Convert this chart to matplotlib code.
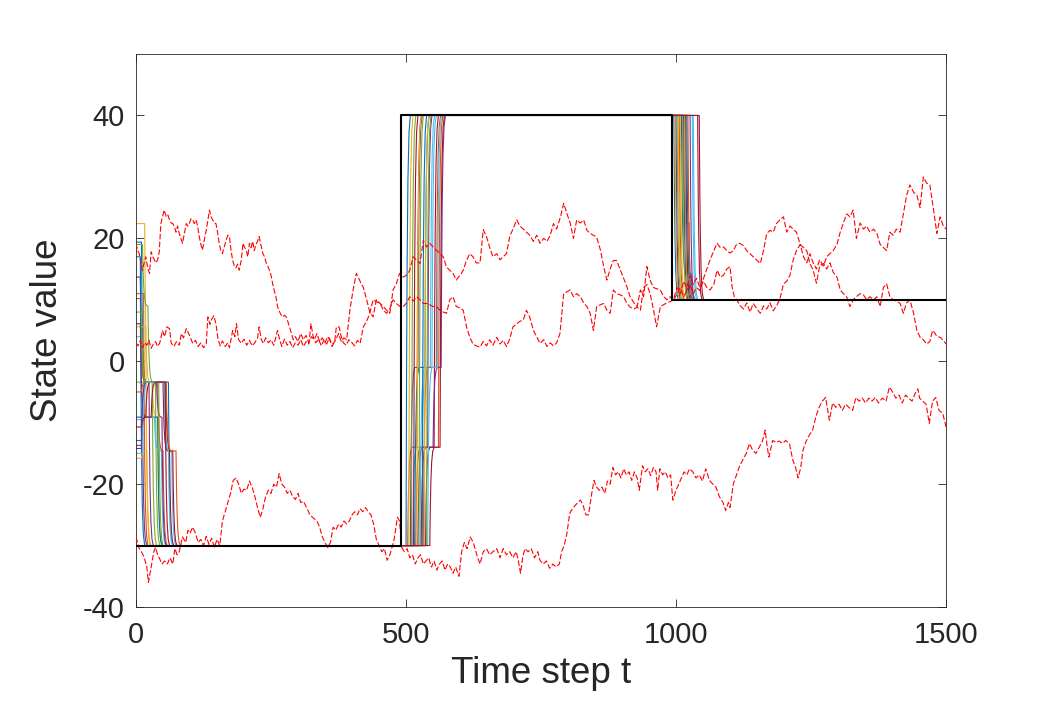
import matplotlib
matplotlib.use('Agg')
import matplotlib.pyplot as plt

plt.rcParams['font.family'] = ['Liberation Sans', 'DejaVu Sans']
plt.rcParams['axes.unicode_minus'] = False

# ---------------- data ----------------
# reference signal (black)
ref_t = [0, 490, 490, 992, 992, 1500]
ref_v = [-30, -30, 40, 40, 10, 10]

# red dashed noisy traces
s1_t = [0, 3, 6, 9, 12, 15, 18, 22, 25, 28, 31, 34, 37, 40, 43, 46, 49, 52, 56, 59, 62, 65, 68, 71, 74, 77, 80, 83, 86, 90, 93, 96, 99, 102, 105, 108, 111, 114, 117, 120, 123, 127, 130, 133, 136, 139, 142, 145, 148, 151, 154, 157, 160, 163, 167, 170, 173, 176, 179, 182, 185, 188, 191, 195, 198, 201, 204, 207, 210, 213, 216, 219, 222, 225, 228, 231, 235, 238, 241, 244, 247, 250, 253, 256, 259, 262, 266, 269, 272, 275, 278, 281, 284, 288, 291, 295, 300, 305, 310, 315, 320, 325, 330, 335, 340, 345, 350, 355, 360, 365, 370, 375, 380, 385, 390, 396, 402, 408, 415, 421, 427, 433, 439, 445, 452, 458, 464, 470, 476, 482, 488, 495, 501, 507, 513, 520, 526, 532, 538, 544, 550, 556, 563, 569, 575, 581, 587, 593, 600, 606, 612, 618, 624, 630, 637, 643, 649, 655, 661, 668, 674, 680, 686, 692, 698, 705, 711, 717, 723, 729, 736, 742, 748, 755, 761, 767, 773, 779, 786, 792, 798, 804, 810, 816, 823, 829, 835, 841, 847, 853, 860, 866, 872, 878, 884, 890, 897, 903, 909, 915, 922, 928, 934, 940, 946, 952, 958, 964, 971, 977, 983, 989, 995, 1002, 1008, 1014, 1020, 1026, 1032, 1038, 1044, 1051, 1057, 1063, 1070, 1076, 1082, 1088, 1094, 1100, 1106, 1112, 1118, 1125, 1131, 1137, 1143, 1150, 1156, 1162, 1168, 1174, 1180, 1186, 1192, 1199, 1205, 1211, 1217, 1223, 1230, 1236, 1242, 1248, 1254, 1260, 1266, 1273, 1279, 1285, 1291, 1298, 1304, 1310, 1316, 1322, 1328, 1334, 1341, 1347, 1353, 1359, 1366, 1372, 1378, 1384, 1390, 1396, 1402, 1408, 1415, 1421, 1427, 1433, 1440, 1446, 1452, 1458, 1464, 1470, 1475, 1480, 1483, 1489, 1495, 1500]
s1_v = [19.2, 18, 17.5, 16, 14.8, 16, 17, 15, 14.3, 17.8, 17, 16.5, 16, 16.5, 17.8, 22.4, 23.5, 24.6, 23.5, 23.8, 23, 22.5, 22.4, 21.9, 21, 22, 20.8, 20, 19.2, 21, 22.4, 22, 22.5, 23.2, 23, 22.4, 23, 22, 20.3, 19, 18.1, 20, 21.3, 23, 24.6, 23.5, 23, 22.5, 22.4, 21, 19.2, 18, 17.5, 18.5, 19.7, 20.5, 20.3, 18, 16.4, 15.5, 15.2, 15.8, 14.8, 16.5, 19.2, 18.5, 18.1, 17, 19.2, 18.5, 19.5, 18, 19, 19.5, 20.3, 19, 17.5, 17, 16, 15.5, 14.8, 14, 12.6, 11.5, 10.5, 8.9, 8, 7.5, 7.2, 7.5, 7.2, 6.5, 5.6, 4.5, 3.5, 4, 3.2, 4.5, 3.5, 4.2, 3, 4, 3.5, 4.5, 3.2, 3.8, 3, 4, 3.3, 2.8, 3.5, 4.5, 3.2, 3.8, 3.5, 8.3, 11.6, 14.3, 13, 12, 10, 8, 7.2, 10, 9.4, 8.9, 8.3, 7.8, 11.6, 12.6, 14.3, 13.7, 14, 14.8, 17, 16.4, 15.9, 19.7, 18.6, 19.2, 18.6, 18.1, 17.5, 17, 15.3, 14.8, 14.3, 13.2, 14, 14.8, 16.4, 17.5, 17, 16, 16, 21.4, 20.3, 18.5, 17, 17.5, 16.5, 17, 17.5, 20.3, 21.5, 23, 22, 21.5, 21, 20.5, 19.5, 20.5, 19.2, 20, 19.5, 20.5, 22.4, 21.5, 23.5, 25.7, 24, 22.5, 20, 23, 22.5, 23, 21.3, 20.8, 20.5, 20.2, 18.1, 15.4, 13.2, 15, 16.4, 16.4, 14.8, 13.5, 12.1, 10.5, 9.5, 8.9, 11.6, 10.5, 15.4, 13.2, 12, 11.8, 11.6, 10.5, 10, 10.5, 9.8, 11, 12, 10.5, 11.5, 12.5, 11, 12, 11.5, 13.5, 15, 16.5, 18, 19.2, 18.5, 18.6, 18, 17.6, 18, 19, 19.2, 18.8, 18, 17.5, 17, 16.4, 15.9, 18, 20.8, 21.3, 21, 22.4, 23, 23.5, 21, 22, 21.5, 21, 19, 18.5, 18, 15.9, 14.8, 12.7, 15.5, 15.9, 15, 16, 14.5, 13.7, 11.6, 11, 10.5, 8.9, 10, 10.5, 11, 10.8, 10, 10.5, 10, 10.5, 8.9, 12, 12.6, 10.5, 10, 9.8, 9.4, 7.8, 9.5, 10, 7.8, 5, 3.9, 3.5, 2.8, 3.2, 5, 4.5, 4, 3.9, 3.4, 2.8]

s2_t = [0, 4, 8, 12, 16, 20, 24, 28, 32, 36, 40, 44, 49, 53, 57, 62, 65, 70, 75, 80, 84, 88, 93, 96, 99, 105, 110, 115, 120, 125, 130, 133, 137, 140, 144, 148, 152, 156, 160, 165, 170, 173, 179, 183, 186, 190, 195, 200, 205, 210, 215, 220, 225, 228, 232, 236, 240, 245, 250, 255, 259, 262, 266, 270, 275, 280, 285, 290, 295, 300, 305, 310, 315, 320, 324, 328, 333, 338, 343, 348, 353, 358, 363, 368, 371, 376, 380, 384, 389, 394, 400, 405, 410, 415, 421, 427, 433, 439, 445, 452, 458, 464, 470, 476, 482, 489, 495, 501, 507, 513, 520, 526, 532, 538, 544, 550, 556, 563, 569, 575, 581, 587, 593, 600, 606, 612, 618, 624, 630, 637, 643, 649, 655, 661, 668, 674, 680, 686, 692, 698, 705, 711, 717, 723, 729, 736, 742, 748, 755, 761, 767, 773, 779, 785, 792, 798, 804, 810, 816, 823, 829, 835, 841, 847, 853, 860, 866, 872, 878, 884, 890, 897, 903, 909, 915, 922, 928, 934, 940, 946, 952, 958, 964, 971, 977, 983, 989, 995, 1002, 1008, 1014, 1020, 1026, 1032, 1038, 1044, 1051, 1057, 1063, 1070, 1076, 1082, 1088, 1094, 1100, 1104, 1108, 1113, 1119, 1125, 1131, 1137, 1143, 1150, 1156, 1162, 1168, 1174, 1180, 1186, 1192, 1199, 1205, 1211, 1217, 1223, 1230, 1236, 1242, 1248, 1254, 1260, 1266, 1273, 1279, 1285, 1291, 1298, 1304, 1310, 1316, 1322, 1328, 1334, 1341, 1347, 1353, 1359, 1366, 1372, 1378, 1384, 1390, 1396, 1402, 1408, 1415, 1421, 1427, 1433, 1440, 1446, 1452, 1458, 1464, 1470, 1477, 1483, 1489, 1495, 1500]
s2_v = [3, 2.5, 3.4, 2.2, 3, 2.6, 3.4, 2.1, 2.8, 3.2, 2.4, 3, 5, 4, 5.6, 5.3, 3, 2.4, 3.2, 2.6, 4.5, 3.8, 5.3, 4.8, 4.2, 2.9, 3.4, 2.4, 3, 2.2, 2.8, 7.2, 6, 6.8, 7.4, 6.1, 3.5, 2.5, 3.3, 2.4, 3, 2.2, 5, 4, 6.1, 3.5, 2.9, 3.6, 2.6, 3.4, 2.5, 3, 3.8, 5.6, 3.5, 2.9, 3.8, 3, 3.5, 2.6, 4, 5, 3.5, 2.4, 3.6, 2.6, 3.2, 2.2, 3, 2.6, 3.5, 2.4, 3.2, 2.8, 6.1, 4, 3, 3.6, 2.5, 3.4, 2.8, 3.8, 2.4, 3.3, 5.6, 5.6, 4, 3, 2.6, 3.5, 3, 2.5, 3.4, 2.9, 5.6, 6.5, 7.8, 10, 9.7, 9.4, 8.3, 7.8, 8.5, 10, 9.4, 8.9, 8.9, 9.5, 10.5, 9.8, 10.5, 10, 9.4, 9.4, 9.2, 8.9, 8.9, 8.3, 8, 7.8, 10, 10.5, 8.9, 8.7, 8.3, 5.6, 3.9, 2.8, 2.5, 2.3, 3.2, 2.5, 3.5, 2.6, 3.9, 2.8, 3.4, 2.4, 3.6, 5.6, 6.1, 6.5, 6.7, 8.3, 7.2, 5, 4, 2.9, 3.5, 2.4, 3, 2.5, 3, 4.5, 11, 11.3, 11.6, 10.5, 11, 10.5, 9.5, 8.9, 7.8, 5, 8.9, 9.2, 9.4, 8.3, 7.8, 11.6, 11, 10.8, 10.5, 9.4, 8.8, 8.5, 8.8, 8.3, 12, 12.5, 11, 8.5, 5.6, 8.9, 9.2, 9.5, 9.7, 10, 12, 11, 13, 12, 14, 12.5, 13.5, 12, 13, 12, 11.6, 12.5, 14.8, 13.7, 14, 15, 15.4, 12, 10.5, 9.9, 9, 8.5, 9.5, 8, 9.4, 8.5, 7.8, 9, 8.5, 9.5, 8.2, 9, 10, 12.6, 13, 14, 16.5, 18, 19, 17, 16, 17.5, 16, 15, 16.5, 15.5, 17, 17.5, 18, 19, 21, 22.5, 24, 23.5, 24.6, 20, 22.5, 21.5, 22, 21, 21.5, 20.8, 19, 18.5, 18, 21, 20.5, 21.5, 21, 24, 27, 28.7, 27.5, 27, 25, 30, 29, 28.7, 24.6, 20.8, 23.5, 22, 21.5]

s3_t = [0, 5, 10, 15, 20, 23, 26, 30, 33, 36, 40, 43, 48, 53, 58, 63, 68, 72, 76, 80, 86, 92, 96, 100, 105, 110, 115, 120, 125, 130, 135, 140, 145, 150, 155, 160, 165, 170, 175, 180, 185, 190, 195, 200, 205, 210, 215, 220, 225, 230, 235, 240, 245, 250, 255, 260, 265, 270, 275, 280, 285, 290, 295, 300, 305, 310, 317, 322, 328, 335, 340, 345, 350, 355, 360, 365, 370, 375, 380, 385, 390, 395, 400, 405, 410, 415, 420, 425, 430, 435, 440, 445, 450, 455, 460, 465, 470, 475, 478, 484, 488, 492, 497, 502, 507, 512, 517, 522, 527, 532, 537, 542, 547, 552, 557, 562, 567, 572, 577, 582, 587, 592, 598, 603, 608, 613, 619, 625, 631, 637, 643, 649, 655, 661, 668, 674, 680, 686, 692, 698, 704, 708, 712, 716, 720, 726, 732, 738, 744, 748, 754, 760, 766, 772, 778, 784, 788, 793, 798, 803, 808, 813, 818, 823, 828, 833, 838, 843, 848, 853, 858, 863, 868, 873, 878, 883, 888, 893, 898, 903, 908, 913, 918, 923, 928, 932, 938, 943, 948, 953, 958, 963, 966, 970, 975, 980, 985, 990, 994, 1000, 1005, 1010, 1015, 1020, 1025, 1031, 1037, 1043, 1049, 1055, 1062, 1068, 1074, 1080, 1087, 1092, 1097, 1100, 1106, 1112, 1118, 1124, 1130, 1136, 1142, 1148, 1154, 1160, 1165, 1169, 1172, 1179, 1185, 1191, 1197, 1203, 1210, 1216, 1222, 1226, 1231, 1235, 1241, 1247, 1253, 1259, 1265, 1271, 1277, 1284, 1290, 1296, 1302, 1308, 1314, 1320, 1327, 1333, 1339, 1345, 1351, 1357, 1363, 1369, 1375, 1382, 1389, 1395, 1401, 1407, 1413, 1419, 1425, 1431, 1437, 1444, 1448, 1451, 1457, 1463, 1469, 1475, 1481, 1487, 1494, 1500]
s3_v = [-28.6, -30.3, -31, -31.9, -33.5, -36, -34.5, -32.4, -31, -30.3, -31.5, -32, -33, -32.5, -33, -32, -33, -30.5, -31.5, -31, -28.6, -29.5, -27.5, -28, -27, -28, -29.5, -29, -30, -28.5, -29.8, -28.8, -30.3, -29, -30, -26, -24.5, -23, -21.5, -19.4, -19, -20, -21.5, -20.8, -21, -19.5, -20.5, -22, -23.8, -25.4, -24, -22, -21, -21.5, -20, -20.5, -18.3, -20, -20.5, -21.5, -21, -22, -22.5, -21.5, -23, -22.8, -24, -25, -25.5, -26, -27, -28.6, -29.5, -30.3, -29.5, -27, -27.5, -26.5, -27, -26, -26.5, -26, -25, -24.5, -25, -24, -24.5, -23.8, -24.5, -25, -26.5, -29, -30, -31, -30.5, -32.4, -31.5, -30, -29, -25.4, -26, -30.3, -31, -30.5, -32, -31.5, -33, -32, -31.5, -33, -32.5, -32, -33.5, -32.5, -34, -33, -32.5, -34, -33, -33.5, -34.5, -33.5, -35, -31, -29.5, -30.5, -28.6, -29.6, -31.5, -33, -31, -30.5, -31.5, -31, -30.5, -32, -30.5, -31.5, -31, -32, -31, -32.5, -34.5, -32, -30.5, -31, -30.5, -32, -31, -32.4, -33, -32.5, -33.7, -33, -33.5, -33, -31, -30, -28, -24.8, -24, -23.5, -23, -22.6, -23.5, -25, -25, -22, -19.4, -20.5, -21, -20.5, -21.5, -19.5, -20, -17.3, -18.5, -18, -19, -17.5, -18.5, -18, -19.4, -18, -19, -21, -17, -18, -17.5, -18.6, -17.3, -18, -21, -17.5, -18.5, -18, -19, -18.5, -22.6, -21, -20, -19, -18, -18.5, -17.5, -18, -19, -18.5, -19.5, -17.5, -19.4, -20, -20.5, -22, -23, -24.3, -23, -23.8, -20, -18.5, -17, -16, -15, -13.4, -14.5, -15, -14, -13, -11.2, -14, -15.6, -12.9, -13.2, -13, -13.4, -12.9, -13.4, -16, -17.5, -19, -17.3, -14.5, -13, -12, -11.2, -9, -7.5, -6.5, -5.9, -9.6, -6.8, -7.5, -7, -8, -7, -7.5, -8, -5.9, -6.5, -6, -6.8, -6, -6.5, -5.9, -6.8, -6, -6.5, -4.2, -5, -6, -5.5, -6.8, -5.5, -6, -6.5, -5, -4.5, -6, -6.5, -7, -10.1, -6.5, -5.9, -8, -8.5, -10.7]

# agents: initial value and switching events (time, new level)
agent_init = [19.4, 11, 22.4, -9.1, 19, 4, 13.7, -12.9, 10.2, 5.6, -13.7,
              -3.4, -9.5, 6.1, 17, -5, -15.8, -14.2, 8, -15, -10.7]
phase1_events = [
    [(10, -3.4), (60, -30)],
    [(14, -30)],
    [(16, -3.4), (30, -9.1), (40, -30)],
    [(12, -30)],
    [(12, 9), (22, -3.4), (36, -30)],
    [(10, -3.4), (52, -14.6), (66, -30)],
    [(8, -3.4), (55, -14.6), (68, -30)],
    [(10, -9.1), (40, -30)],
    [(8, -3.4), (56, -14.6), (74, -30)],
    [(18, -30)],
    [(10, -3.4), (24, -30)],
    [(30, -30)],
    [(12, -9.1), (34, -14.6), (47, -30)],
    [(8, -9.1), (18, -3.4), (50, -14.6), (62, -30)],
    [(8, -30)],
    [(10, -3.4), (40, -14.6), (50, -30)],
    [(10, -14.6), (20, -30)],
    [(10, -3.4), (38, -9.1), (48, -30)],
    [(10, -3.4), (42, -30)],
    [(12, -3.4), (52, -14.6), (60, -30)],
    [(10, -9.1), (28, -3.4), (54, -30)],
]
phase2_events = [
    [(500, 40)],
    [(503, -14), (520, 40)],
    [(505, 40)],
    [(508, -1), (522, 40)],
    [(510, 40)],
    [(512, -14), (530, -1), (545, 40)],
    [(514, 40)],
    [(516, -1), (535, 40)],
    [(518, -14), (560, 40)],
    [(520, 40)],
    [(522, -14), (540, 40)],
    [(524, 40)],
    [(526, -1), (548, 40)],
    [(528, -14), (552, 40)],
    [(530, 40)],
    [(532, -1), (556, 40)],
    [(534, 40)],
    [(536, -14), (550, -1), (565, 40)],
    [(538, 40)],
    [(540, -1), (558, 40)],
    [(544, -14), (563, 40)],
]
phase3_events = [
    [(996, 10)], [(1012, 22.5), (1024, 10)], [(998, 10)], [(1000, 10)],
    [(1002, 10)], [(1004, 10)], [(1040, 10)], [(1010, 14.3), (1028, 10)],
    [(1006, 10)], [(1008, 10)], [(1014, 10)], [(1016, 10)], [(1030, 10)],
    [(1018, 10)], [(1020, 10)], [(1022, 10)], [(1004, 10)], [(1026, 10)],
    [(1012, 10)], [(1032, 10)], [(1043, 10)],
]
matlab_colors = ['#0072BD', '#D95319', '#EDB120', '#7E2F8E', '#77AC30', '#4DBEEE', '#A2142F']

# ---------------- drawing ----------------
RAMP_DT = [1, 2, 3.5, 5.5, 8]
RAMP_FRAC = [0.4, 0.65, 0.85, 0.96, 1.0]


def agent_path(v0, events):
    ts, vs = [0], [v0]
    cur = v0
    for t_s, target in events:
        ts.append(t_s)
        vs.append(cur)
        for dt, f in zip(RAMP_DT, RAMP_FRAC):
            ts.append(t_s + dt)
            vs.append(cur + f * (target - cur))
        cur = target
    ts.append(1500)
    vs.append(cur)
    return ts, vs


fig = plt.figure(figsize=(10.48, 7.05), dpi=100)
ax = fig.add_axes([0.1298, 0.139, 0.7729, 0.7844])

for i, v0 in enumerate(agent_init):
    ev = phase1_events[i] + phase2_events[i] + phase3_events[i]
    ts, vs = agent_path(v0, ev)
    ax.plot(ts, vs, color=matlab_colors[i % 7], lw=0.8, zorder=2)

for tt, vv in [(s1_t, s1_v), (s2_t, s2_v), (s3_t, s3_v)]:
    ax.plot(tt, vv, color='red', lw=0.8, linestyle=(0, (5, 2)), zorder=3)

ax.plot(ref_t, ref_v, color='black', lw=1.5, zorder=4)

ax.set_xlim(0, 1500)
ax.set_ylim(-40, 50)
ax.set_xticks([0, 500, 1000, 1500])
ax.set_yticks([-40, -20, 0, 20, 40])
ax.tick_params(direction='in', length=6, width=0.6, colors='#262626',
               labelsize=21, top=True, right=True)
ax.tick_params(axis='x', pad=10)
ax.tick_params(axis='y', pad=8)
for sp in ax.spines.values():
    sp.set_color('#262626')
    sp.set_linewidth(0.6)
ax.set_xlabel('Time step t', fontsize=26.5, color='#262626', labelpad=5)
ax.set_ylabel('State value', fontsize=26.5, color='#262626', labelpad=13)

fig.savefig('out.png', dpi=100, facecolor='white')
